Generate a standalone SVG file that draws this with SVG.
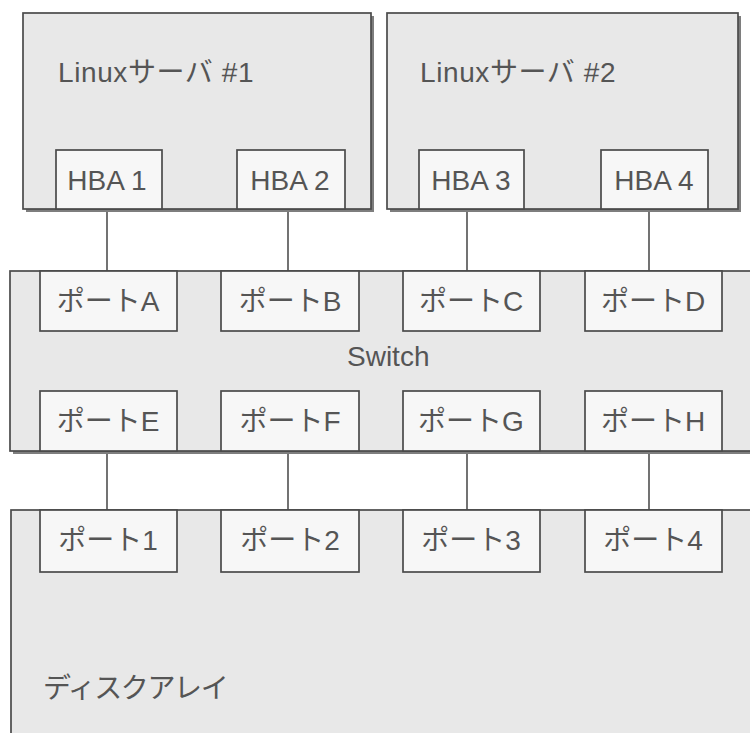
<svg xmlns="http://www.w3.org/2000/svg" width="750" height="733" viewBox="0 0 750 733">
  <style>
    .box { fill: #e8e8e8; stroke: #4a4a4a; stroke-width: 1.7; }
    .shadow { fill: #7e7e7e; }
    .port { fill: #f7f7f7; stroke: #4a4a4a; stroke-width: 1.7; }
    .label { font-family: "Liberation Sans", "Noto Sans CJK JP", sans-serif; font-size: 28px; fill: #555555; }
    .mid { text-anchor: middle; }
    .link { stroke: #5a5a5a; stroke-width: 1.7; fill: none; }
    .dash { stroke: #5a5a5a; stroke-width: 1.6; stroke-dasharray: 5 3; fill: none; }
  </style>
  <rect width="750" height="733" fill="#ffffff"/>

  <!-- Connectors: servers to switch, switch internal paths, switch to array -->
  <g id="connectors">
    <line class="link" x1="107" y1="209" x2="107" y2="271"/>
    <line class="link" x1="288" y1="209" x2="288" y2="271"/>
    <line class="link" x1="467" y1="209" x2="467" y2="271"/>
    <line class="link" x1="649" y1="209" x2="649" y2="271"/>

    <line class="dash" x1="104" y1="331" x2="104" y2="391"/>
    <line class="dash" x1="291" y1="331" x2="291" y2="391"/>
    <line class="dash" x1="470" y1="331" x2="470" y2="391"/>
    <line class="dash" x1="649" y1="331" x2="649" y2="391"/>

    <line class="link" x1="107" y1="451" x2="107" y2="510"/>
    <line class="link" x1="288" y1="451" x2="288" y2="510"/>
    <line class="link" x1="467" y1="451" x2="467" y2="510"/>
    <line class="link" x1="649" y1="451" x2="649" y2="510"/>
  </g>

  <!-- Server 1 -->
  <g id="server1">
    <rect class="shadow" x="26" y="16" width="348" height="196"/>
    <rect class="box" x="23" y="13" width="348" height="196"/>
    <text class="label" x="58" y="82" letter-spacing="0.6">Linuxサーバ #1</text>
  </g>
  <g id="hba1">
    <rect class="port" x="56" y="150" width="106" height="59"/>
    <text class="label mid" x="107" y="190">HBA 1</text>
  </g>
  <g id="hba2">
    <rect class="port" x="237" y="150" width="108" height="59"/>
    <text class="label mid" x="290" y="190">HBA 2</text>
  </g>

  <!-- Server 2 -->
  <g id="server2">
    <rect class="shadow" x="390" y="16" width="351" height="196"/>
    <rect class="box" x="387" y="13" width="351" height="196"/>
    <text class="label" x="420" y="82" letter-spacing="0.6">Linuxサーバ #2</text>
  </g>
  <g id="hba3">
    <rect class="port" x="419" y="150" width="105" height="59"/>
    <text class="label mid" x="471" y="190">HBA 3</text>
  </g>
  <g id="hba4">
    <rect class="port" x="601" y="150" width="107" height="59"/>
    <text class="label mid" x="654" y="190">HBA 4</text>
  </g>

  <!-- Switch -->
  <g id="switch">
    <rect class="shadow" x="13" y="274" width="740" height="180"/>
    <rect class="box" x="10" y="271" width="745" height="180"/>
    <text class="label" x="347" y="366">Switch</text>
  </g>
  <g id="portA">
    <rect class="port" x="40" y="271" width="137" height="60"/>
    <text class="label mid" x="108" y="311">ポートA</text>
  </g>
  <g id="portB">
    <rect class="port" x="221" y="271" width="138" height="60"/>
    <text class="label mid" x="290" y="311">ポートB</text>
  </g>
  <g id="portC">
    <rect class="port" x="403" y="271" width="137" height="60"/>
    <text class="label mid" x="471" y="311">ポートC</text>
  </g>
  <g id="portD">
    <rect class="port" x="585" y="271" width="137" height="60"/>
    <text class="label mid" x="653" y="311">ポートD</text>
  </g>
  <g id="portE">
    <rect class="port" x="40" y="391" width="137" height="60"/>
    <text class="label mid" x="108" y="431">ポートE</text>
  </g>
  <g id="portF">
    <rect class="port" x="221" y="391" width="138" height="60"/>
    <text class="label mid" x="290" y="431">ポートF</text>
  </g>
  <g id="portG">
    <rect class="port" x="403" y="391" width="137" height="60"/>
    <text class="label mid" x="471" y="431">ポートG</text>
  </g>
  <g id="portH">
    <rect class="port" x="585" y="391" width="137" height="60"/>
    <text class="label mid" x="653" y="431">ポートH</text>
  </g>

  <!-- Disk array -->
  <g id="diskarray">
    <rect class="box" x="11" y="510" width="745" height="240"/>
    <text class="label" x="43" y="698" font-size="27" letter-spacing="-1.4">ディスクアレイ</text>
  </g>
  <g id="port1">
    <rect class="port" x="40" y="510" width="137" height="62"/>
    <text class="label mid" x="108" y="550">ポート1</text>
  </g>
  <g id="port2">
    <rect class="port" x="221" y="510" width="138" height="62"/>
    <text class="label mid" x="290" y="550">ポート2</text>
  </g>
  <g id="port3">
    <rect class="port" x="403" y="510" width="137" height="62"/>
    <text class="label mid" x="471" y="550">ポート3</text>
  </g>
  <g id="port4">
    <rect class="port" x="585" y="510" width="137" height="62"/>
    <text class="label mid" x="653" y="550">ポート4</text>
  </g>
</svg>
